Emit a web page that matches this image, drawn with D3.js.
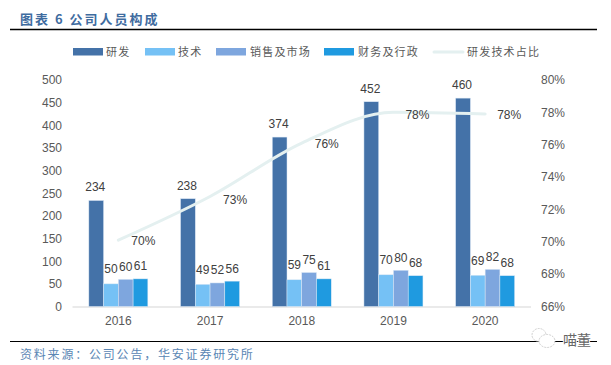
<!DOCTYPE html>
<html><head><meta charset="utf-8">
<script src="https://cdn.jsdelivr.net/npm/d3@7/dist/d3.min.js"></script>
<style>html,body{margin:0;background:#fff}svg{display:block}</style></head>
<body><svg id="c" width="611" height="365"></svg>
<script>
const years=["2016","2017","2018","2019","2020"];
const seriesNames=["研发","技术","销售及市场","财务及行政"];
const seriesColors=["#4472a8","#75c1f5","#7ea6de","#1f9ae0"];
const rd=[234,238,374,452,460];
const tech=[50,49,59,70,69];
const sales=[60,52,75,80,82];
const admin=[61,56,61,68,68];
const share=[70.1,72.8,76.1,78,77.9];
const shareLabels=["70%","73%","76%","78%","78%"];
const leftTicks=[0,50,100,150,200,250,300,350,400,450,500];
const rightTicks=[66,68,70,72,74,76,78,80];
const lineName="研发技术占比";
const title="图表 6 公司人员构成";
const source="资料来源：公司公告，华安证券研究所";
const watermark="喵董";
const lineColor="#e4f0f0";
const latin="Liberation Sans, Arial, sans-serif";
const cjk="'Noto Sans CJK SC', sans-serif";
const allVals=[rd,tech,sales,admin];
const svg=d3.select("#c");
const x=d3.scaleBand().domain(years).range([72.5,531]);
const xs=d3.scaleBand().domain(seriesNames).range([0,59]);
const y=d3.scaleLinear().domain([0,500]).range([306.5,80]);
const yr=d3.scaleLinear().domain([66,80]).range([306.5,80]);
svg.append("text").attr("x",20).attr("y",23.5).attr("font-family",cjk).attr("font-weight",700).attr("font-size",13).attr("letter-spacing",2).attr("fill","#3f6c9f").text(title);
svg.append("line").attr("x1",10).attr("x2",597).attr("y1",29.5).attr("y2",29.5).attr("stroke","#000").attr("stroke-width",1.3);
svg.append("line").attr("x1",10).attr("x2",597).attr("y1",341.5).attr("y2",341.5).attr("stroke","#000").attr("stroke-width",1);
svg.append("text").attr("x",20).attr("y",358.5).attr("font-family",cjk).attr("font-size",12).attr("letter-spacing",1.8).attr("fill","#5a86b4").text(source);
// axes
const axL=svg.append("g").call(d3.axisLeft(y).tickValues(leftTicks).tickSize(0).tickPadding(0)).attr("transform","translate(62,0)");
const axR=svg.append("g").call(d3.axisRight(yr).tickValues(rightTicks).tickFormat(d=>d+"%").tickSize(0).tickPadding(0)).attr("transform","translate(541,0)");
const axB=svg.append("g").call(d3.axisBottom(x).tickSize(0).tickPadding(10)).attr("transform","translate(0,306.5)");
[axL,axR,axB].forEach(a=>{a.select(".domain").remove();a.selectAll("text").attr("font-family",latin).attr("font-size",12).attr("fill","#595959");});
svg.append("line").attr("x1",72.5).attr("x2",531).attr("y1",307).attr("y2",307).attr("stroke","#e3e3e3").attr("stroke-width",1.5);
// bars
const labelGap=[9,10.5,8.5,8.5];
years.forEach((yr0,i)=>{
  const g=svg.append("g").attr("transform",`translate(${x(yr0)+x.bandwidth()/2-29.5},0)`);
  allVals.forEach((vals,j)=>{
    g.append("rect").attr("x",xs(seriesNames[j])).attr("y",y(vals[i])).attr("width",xs.bandwidth()).attr("height",y(0)-y(vals[i])).attr("fill",seriesColors[j]).attr("stroke","#dbe8f5").attr("stroke-width",.5);
    g.append("text").attr("x",xs(seriesNames[j])+xs.bandwidth()/2+(j==0?-1:0)).attr("y",y(vals[i])-labelGap[j]).attr("text-anchor","middle").attr("font-family",latin).attr("font-size",12).attr("fill","#404040").text(vals[i]);
  });
});
// line
const cx=d=>x(d)+x.bandwidth()/2;
const line=d3.line().x((d,i)=>cx(years[i])).y(d=>yr(d)).curve(d3.curveMonotoneX);
svg.append("path").datum(share).attr("d",line).attr("fill","none").attr("stroke",lineColor).attr("stroke-width",3).attr("stroke-linecap","round");
const lblDx=[25,25,25,24,24],lblDy=[5,8,5,7,5];
share.forEach((v,i)=>{
  svg.append("text").attr("x",cx(years[i])+lblDx[i]).attr("y",yr(v)+lblDy[i]).attr("text-anchor","middle").attr("font-family",latin).attr("font-size",12).attr("fill","#404040").text(shareLabels[i]);
});
// legend
const legX=[73,145,216,324],txtX=[107,179,251,359];
seriesNames.forEach((n,j)=>{
  svg.append("rect").attr("x",legX[j]).attr("y",48).attr("width",30).attr("height",7.5).attr("fill",seriesColors[j]);
  svg.append("text").attr("x",txtX[j]-1).attr("y",56).attr("font-family",cjk).attr("font-size",11).attr("letter-spacing",1.2).attr("fill","#595959").text(n);
});
svg.append("line").attr("x1",434).attr("x2",463).attr("y1",52).attr("y2",52).attr("stroke",lineColor).attr("stroke-width",3).attr("stroke-linecap","round");
svg.append("text").attr("x",467).attr("y",56).attr("font-family",cjk).attr("font-size",11).attr("letter-spacing",1.2).attr("fill","#595959").text(lineName);
// watermark
const wm=svg.append("g").attr("fill","#fff").attr("stroke","#bbb").attr("stroke-width",.7).attr("stroke-dasharray","2 1");
wm.append("ellipse").attr("cx",539).attr("cy",335).attr("rx",7).attr("ry",6.5);
wm.append("ellipse").attr("cx",547).attr("cy",341).attr("rx",8).attr("ry",6.5);
svg.append("text").attr("x",563).attr("y",345).attr("font-family",cjk).attr("font-size",14).attr("fill","#666").attr("stroke","#fff").attr("stroke-width",2).attr("paint-order","stroke").text(watermark);
</script></body></html>
